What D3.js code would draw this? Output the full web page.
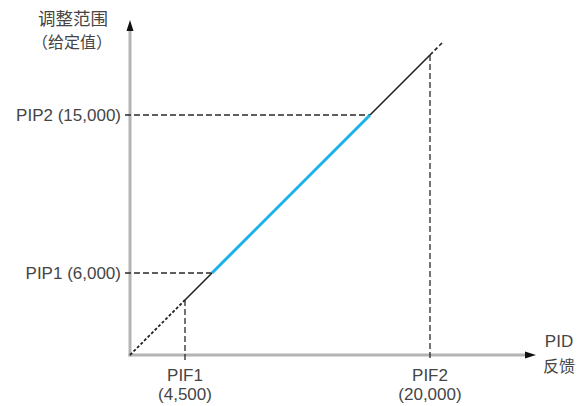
<!DOCTYPE html>
<html><head><meta charset="utf-8">
<script src="https://cdn.jsdelivr.net/npm/d3@7"></script>
<style>body{margin:0;background:#fff}svg{display:block}</style>
</head><body>
<svg id="c" width="579" height="406"></svg>
<script>
const xValues = [4500, 20000];
const xNames = ["PIF1", "PIF2"];
const xTickLabels = ["(4,500)", "(20,000)"];
const yValues = [6000, 15000];
const yTickLabels = ["PIP1 (6,000)", "PIP2 (15,000)"];
const yTitle = ["调整范围", "（给定值）"];
const xTitle = ["PID", "反馈"];

const svg = d3.select("#c");
const x = d3.scaleLinear().domain([0, xValues[0], xValues[1]]).range([130, 185, 430]);
const y = d3.scaleLinear().domain([0, yValues[0], yValues[1]]).range([355, 273, 115]);
const ox = x(0), oy = y(0);
// schematic 45° characteristic: pixel relation
const yOnDiag = px => oy - (px - ox);
const xOnDiag = py => ox + (oy - py);

const font = "'Liberation Sans', Arial, sans-serif";
const txt = "#454545";
const fs = 17;

// axes
svg.append("line").attr("x1", ox).attr("y1", oy + 1.5).attr("x2", ox).attr("y2", 28)
  .attr("stroke", "#b4b4b4").attr("stroke-width", 3);
svg.append("line").attr("x1", ox - 1.5).attr("y1", oy).attr("x2", 527).attr("y2", oy)
  .attr("stroke", "#b4b4b4").attr("stroke-width", 3);
svg.append("path").attr("d", `M${ox},20 L${ox-3.5},31 L${ox+3.5},31 Z`).attr("fill", "#111");
svg.append("path").attr("d", `M536,${oy} L525,${oy-3.5} L525,${oy+3.5} Z`).attr("fill", "#111");

// guidelines
const guide = g => g.attr("stroke", "#2a2a2a").attr("stroke-width", 1.3).attr("stroke-dasharray", "6,3").attr("fill", "none");
yValues.forEach(v => {
  svg.append("line").attr("x1", ox - 5).attr("y1", y(v)).attr("x2", xOnDiag(y(v))).attr("y2", y(v)).call(guide);
});
xValues.forEach(v => {
  svg.append("line").attr("x1", x(v)).attr("y1", yOnDiag(x(v))).attr("x2", x(v)).attr("y2", oy + 5).call(guide);
});

// characteristic line
const pF1 = [x(xValues[0]), yOnDiag(x(xValues[0]))];
const pP1 = [xOnDiag(y(yValues[0])), y(yValues[0])];
const pP2 = [xOnDiag(y(yValues[1])), y(yValues[1])];
const pF2 = [x(xValues[1]), yOnDiag(x(xValues[1]))];
const endX = pF2[0] + 13;
const pEnd = [endX, yOnDiag(endX)];
const seg = (a, b, col, w, dash) => svg.append("line").attr("x1", a[0]).attr("y1", a[1]).attr("x2", b[0]).attr("y2", b[1])
  .attr("stroke", col).attr("stroke-width", w).attr("stroke-dasharray", dash || null);
seg([ox, oy], pF1, "#222", 1.8, "3,2");
seg(pF1, pP1, "#222", 1.6);
seg(pP2, pF2, "#222", 1.6);
seg(pF2, pEnd, "#222", 1.6, "4,2.5");
seg(pP1, pP2, "#1ab2ea", 3);

// labels
yValues.forEach((v, i) => {
  svg.append("text").attr("x", 121).attr("y", y(v)).attr("dy", "0.35em").attr("text-anchor", "end")
    .attr("font-family", font).attr("font-size", fs).attr("fill", txt).text(yTickLabels[i]);
});
xValues.forEach((v, i) => {
  svg.append("text").attr("x", x(v)).attr("y", 381).attr("text-anchor", "middle")
    .attr("font-family", font).attr("font-size", fs).attr("fill", txt).text(xNames[i]);
  svg.append("text").attr("x", x(v)).attr("y", 400).attr("text-anchor", "middle")
    .attr("font-family", font).attr("font-size", fs).attr("fill", txt).text(xTickLabels[i]);
});
const cjk = "'Noto Sans CJK SC', 'Liberation Sans', sans-serif";
svg.append("text").attr("x", 73).attr("y", 25).attr("text-anchor", "middle")
  .attr("font-family", cjk).attr("font-size", 17.5).attr("fill", txt).text(yTitle[0]);
svg.append("text").attr("x", 72).attr("y", 48).attr("text-anchor", "middle")
  .attr("font-family", cjk).attr("font-size", 16).attr("fill", txt).text(yTitle[1]);
svg.append("text").attr("x", 559).attr("y", 347).attr("text-anchor", "middle")
  .attr("font-family", font).attr("font-size", fs).attr("fill", txt).text(xTitle[0]);
svg.append("text").attr("x", 559).attr("y", 372).attr("text-anchor", "middle")
  .attr("font-family", cjk).attr("font-size", 16).attr("fill", txt).text(xTitle[1]);
</script>
</body></html>
